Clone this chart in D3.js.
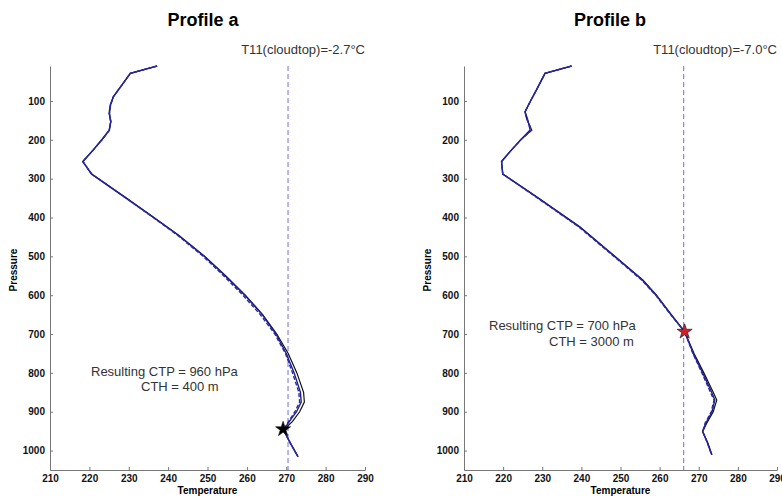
<!DOCTYPE html>
<html>
<head>
<meta charset="utf-8">
<script src="https://cdn.jsdelivr.net/npm/d3@7"></script>
<style>
  body { margin: 0; background: #fff; }
  text { font-family: Arial, "Liberation Sans", sans-serif; }
</style>
</head>
<body>
<svg width="782" height="496"></svg>
<script>
// ticks
const tempTicks = [210, 220, 230, 240, 250, 260, 270, 280, 290];
const presTicks = [100, 200, 300, 400, 500, 600, 700, 800, 900, 1000];

// profile a
const presA = [10, 29, 60, 89, 110, 132, 153, 175, 200, 226, 256, 288, 350, 400, 445, 500, 550, 600, 650, 700, 750, 800, 850, 875, 900, 925, 947, 980, 1016];
const blackA = [237.2, 230.4, 228.2, 226.1, 225.4, 225.1, 225.4, 225.1, 223.2, 221.0, 218.3, 220.6, 229.4, 236.4, 242.6, 249.3, 254.6, 259.6, 264.0, 267.6, 270.5, 272.7, 274.4, 274.6, 273.4, 271.6, 269.3, 271.0, 273.0];
const blueA = [237.2, 230.4, 228.2, 226.1, 225.3, 225.0, 225.5, 225.0, 223.1, 221.0, 218.4, 220.5, 229.3, 236.3, 242.5, 249.2, 254.5, 259.5, 263.9, 267.4, 270.0, 272.0, 273.6, 273.8, 272.6, 270.8, 269.3, 271.0, 273.0];
const dashA = [237.2, 230.4, 228.2, 226.1, 225.4, 225.1, 225.4, 225.1, 223.2, 221.0, 218.3, 220.6, 229.3, 236.2, 242.3, 248.9, 254.1, 259.0, 263.4, 267.1, 269.8, 271.6, 273.2, 273.4, 272.2, 270.6, 269.3, 271.0, 273.0];
const t11A = 270.45;
const ctpA = { t: 269.2, p: 945 };

// profile b
const presB = [10, 29, 72, 100, 128, 145, 175, 200, 231, 256, 288, 350, 424, 500, 561, 600, 650, 694, 750, 800, 850, 870, 900, 930, 951, 980, 1011];
const blackB = [237.5, 230.7, 228.5, 227.0, 225.6, 226.0, 227.3, 224.5, 221.7, 219.6, 219.9, 229.0, 239.6, 248.6, 255.7, 259.2, 263.0, 266.4, 268.8, 271.3, 273.7, 274.6, 273.7, 272.0, 271.0, 272.3, 273.4];
const blueB = [237.5, 230.7, 228.5, 227.0, 225.6, 226.2, 226.9, 224.5, 221.7, 219.6, 219.9, 229.0, 239.5, 248.5, 255.6, 259.1, 262.9, 266.4, 268.6, 271.0, 273.3, 274.1, 273.4, 271.8, 271.0, 272.2, 273.3];
const dashB = [237.5, 230.7, 228.5, 227.0, 225.6, 226.0, 227.3, 224.5, 221.7, 219.6, 219.9, 228.8, 239.3, 248.3, 255.4, 259.0, 262.8, 266.4, 268.5, 270.8, 273.0, 273.9, 273.2, 271.6, 271.0, 272.2, 273.3];
const t11B = 266.15;
const ctpB = { t: 266.4, p: 694 };

const svg = d3.select("svg");

function panel(opt) {
  const x = d3.scaleLinear().domain([210, 290]).range([opt.x0, opt.x1]);
  const y = d3.scaleLinear().domain([10, 1050]).range([66, 470]);

  const g = svg.append("g");

  // osi
  const ax = g.append("g")
    .attr("transform", "translate(0,470)")
    .call(d3.axisBottom(x).tickValues(tempTicks).tickFormat(d3.format("d"))
      .tickSizeInner(-3).tickSizeOuter(0).tickPadding(5));
  const ay = g.append("g")
    .attr("transform", `translate(${opt.x0},0)`)
    .call(d3.axisLeft(y).tickValues(presTicks).tickFormat(d3.format("d"))
      .tickSizeInner(-3).tickSizeOuter(0).tickPadding(5));
  [ax, ay].forEach(a => {
    a.selectAll("path, line").attr("stroke", "#777");
    a.selectAll("text").attr("font-size", 10).attr("font-weight", "bold")
      .attr("font-family", "Arial, 'Liberation Sans', sans-serif").attr("fill", "#111");
  });

  g.append("text")
    .attr("x", (opt.x0 + opt.x1) / 2).attr("y", 494)
    .attr("text-anchor", "middle").attr("font-size", 10).attr("font-weight", "bold")
    .text("Temperature");
  g.append("text")
    .attr("transform", `translate(${opt.x0 - 33},270) rotate(-90)`)
    .attr("text-anchor", "middle").attr("font-size", 10).attr("font-weight", "bold")
    .text("Pressure");

  g.append("text")
    .attr("x", opt.titleX).attr("y", 26)
    .attr("text-anchor", "middle").attr("font-size", 18).attr("font-weight", "bold")
    .text(opt.title);
  g.append("text")
    .attr("x", opt.x1).attr("y", 54)
    .attr("text-anchor", "end").attr("font-size", 13).attr("fill", "#333")
    .text(opt.t11label);

  // vertical cloud top line
  g.append("line")
    .attr("x1", x(opt.t11)).attr("x2", x(opt.t11))
    .attr("y1", y(10)).attr("y2", 470)
    .attr("stroke", "#6f6fd6").attr("stroke-width", 1)
    .attr("stroke-dasharray", "5,3");

  const line = d3.line()
    .x(d => x(d[0]))
    .y(d => y(d[1]));

  const series = [
    { t: opt.black, color: "#111", w: 1.2, dash: null },
    { t: opt.blue, color: "#1e1e8c", w: 1.4, dash: null },
    { t: opt.dash, color: "#2a2aa8", w: 1.4, dash: "4,2" }
  ];
  series.forEach(s => {
    g.append("path")
      .datum(s.t.map((t, i) => [t, opt.pres[i]]))
      .attr("fill", "none")
      .attr("stroke", s.color)
      .attr("stroke-width", s.w)
      .attr("stroke-dasharray", s.dash)
      .attr("d", line);
  });

  g.append("path")
    .attr("transform", `translate(${x(opt.ctp.t)},${y(opt.ctp.p)})`)
    .attr("d", d3.symbol(d3.symbolStar, 70)())
    .attr("fill", opt.starFill)
    .attr("stroke", "#111")
    .attr("stroke-width", 0.6);

  g.append("text")
    .attr("x", opt.ann1[0]).attr("y", opt.ann1[1])
    .attr("font-size", 13).attr("fill", "#333")
    .text(opt.ann1[2]);
  g.append("text")
    .attr("x", opt.ann2[0]).attr("y", opt.ann2[1])
    .attr("font-size", 13).attr("fill", "#333")
    .text(opt.ann2[2]);
}

panel({
  x0: 50, x1: 365, titleX: 203, title: "Profile a",
  t11label: "T11(cloudtop)=-2.7°C", t11: t11A,
  pres: presA, black: blackA, blue: blueA, dash: dashA,
  ctp: ctpA, starFill: "#000",
  ann1: [91, 376, "Resulting CTP = 960 hPa"],
  ann2: [141, 391, "CTH = 400 m"]
});

panel({
  x0: 464, x1: 777, titleX: 610, title: "Profile b",
  t11label: "T11(cloudtop)=-7.0°C", t11: t11B,
  pres: presB, black: blackB, blue: blueB, dash: dashB,
  ctp: ctpB, starFill: "#d0202a",
  ann1: [489, 330, "Resulting CTP = 700 hPa"],
  ann2: [549, 346, "CTH = 3000 m"]
});
</script>
</body>
</html>
